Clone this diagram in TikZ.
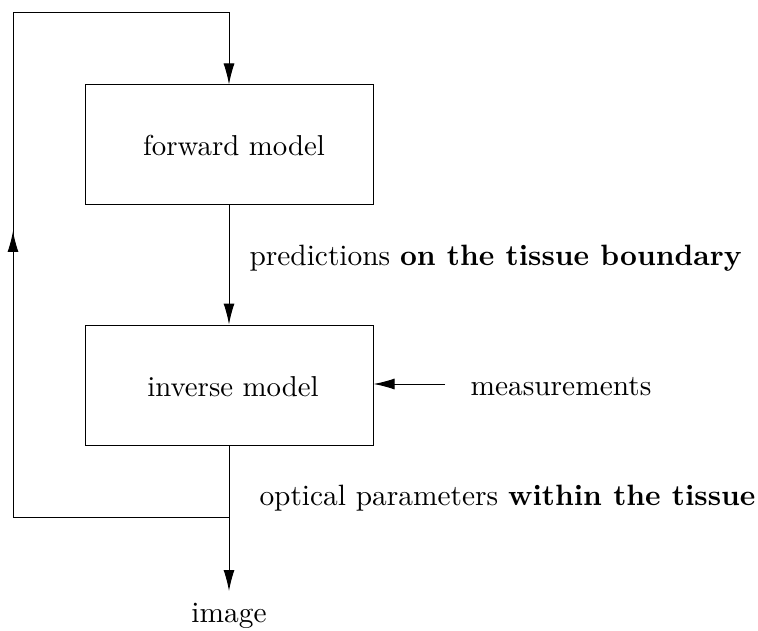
\documentclass[tikz,border=0pt]{standalone}
\usepackage{fontspec}
\setmainfont{lmroman10-regular.otf}[BoldFont=lmroman10-bold.otf]
\usetikzlibrary{arrows.meta}
\begin{document}
\begin{tikzpicture}[x=0.5pt,y=-0.5pt,
  line width=0.5pt,
  arr/.style={-{Latex[length=10.5pt,width=5.5pt]}},
  blk/.style={draw,minimum width=144pt,minimum height=60pt,inner sep=0pt},
  lbl/.style={inner sep=0pt,font=\fontsize{14.7}{17}\selectfont},
  every node/.style={font=\fontsize{14.4}{17}\selectfont}]
\useasboundingbox (0,0) rectangle (758,630);
\node[blk] (fwd) at (229,145) {};
\node[blk] (inv) at (229,385) {};
\node[inner sep=0pt,anchor=base] (ft) at (234,156) {forward model};
\node[inner sep=0pt,anchor=base] (it) at (233,396) {inverse model};
\node[lbl,anchor=base west] (pred) at (249,265) {predictions \textbf{on the tissue boundary}};
\node[lbl,anchor=base west] (opt) at (259,505) {optical parameters \textbf{within the tissue}};
\node[lbl,anchor=base west] (meas) at (470,395) {measurements};
\node[lbl,anchor=base] (img) at (229,622) {image};
\coordinate (j) at (229,517);
\coordinate (bl) at (13,517);
\coordinate (tl) at (13,13);
\coordinate (tr) at (229,13);
\coordinate (lm) at (13,300);
\coordinate (la) at (13,231);
\coordinate (ms) at (445,384);
\coordinate (ie) at (229,591);
\draw[arr] (fwd.south) -- (inv.north);
\draw[arr] (inv.south) -- (ie);
\draw[arr] (j) -- (bl) -- (tl) -- (tr) -- (fwd.north);
\draw[arr] (lm) -- (la);
\draw[arr] (ms) -- (inv.east |- ms);
\end{tikzpicture}
\end{document}
